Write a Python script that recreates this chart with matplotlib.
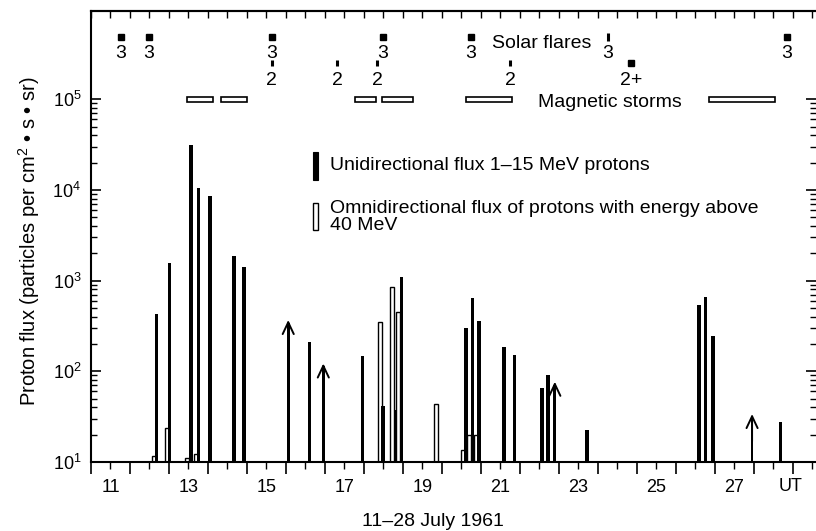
import numpy as np
import matplotlib
matplotlib.use('Agg')
import matplotlib.pyplot as plt
from matplotlib import ticker, transforms
from matplotlib.patches import Rectangle

plt.rcParams['font.family'] = ['Liberation Sans', 'DejaVu Sans']
plt.rcParams['mathtext.fontset'] = 'custom'
plt.rcParams['mathtext.rm'] = 'Liberation Sans'
plt.rcParams['mathtext.it'] = 'Liberation Sans:italic'
plt.rcParams['mathtext.bf'] = 'Liberation Sans:bold'

# unidirectional flux 1-15 MeV protons (solid bars), day of July 1961 (UT)
uni_day = [12.685, 13.01, 13.56, 13.76, 14.05, 14.67, 14.93, 16.6, 17.97, 18.49, 18.81, 18.97,
           20.62, 20.79, 20.95, 21.59, 21.87, 22.57, 22.72, 23.73, 26.6, 26.77, 26.96, 28.69]
uni_flux = [427, 1550, 31300, 10400, 8600, 1860, 1420, 209, 148, 41.7, 37.4, 1100,
            297, 638, 361, 187, 152, 66, 91, 22.5, 538, 664, 245, 27.8]

# lower limits (bars with arrows)
lim_day = [16.06, 16.96, 22.9, 27.96]
lim_flux = [368, 122, 76.7, 33.8]

# omnidirectional flux, protons above 40 MeV (open bars)
omni_day = [12.615, 12.94, 13.47, 13.69, 18.41, 18.72, 18.88, 19.86, 20.55, 20.70, 20.87]
omni_flux = [11.6, 23.5, 11, 12.3, 348, 856, 451, 44, 13.5, 20, 20]

# magnetic storms
storm_start = [13.47, 14.33, 17.77, 18.47, 20.63, 26.85]
storm_end = [14.12, 15.01, 18.30, 19.25, 21.79, 28.56]

# solar flares: day, importance, row
flare_day = [11.76, 12.48, 15.64, 18.48, 20.74, 24.26, 28.86, 15.64, 17.32, 18.34, 21.75, 24.86]
flare_class = ['3', '3', '3', '3', '3', '3', '3', '2', '2', '2', '2', '2+']
flare_row = [0, 0, 0, 0, 0, 0, 0, 1, 1, 1, 1, 1]
flare_mark = ['s', 's', 's', 's', 's', '|', 's', '|', '|', '|', '|', 's']

day_labels = ['11', '13', '15', '17', '19', '21', '23', '25', '27']

fig = plt.figure(figsize=(8.16, 5.31), dpi=100)
ax = fig.add_axes([0.1115, 0.130, 0.8885, 0.849])
ax.set_yscale('log')
ax.set_xlim(11, 29.6)
ax.set_ylim(10, 10**5.972)

uni = np.array(uni_flux)
omni = np.array(omni_flux)
lim = np.array(lim_flux)

ax.bar(omni_day, omni - 10, bottom=10, width=0.1, color='white', edgecolor='black', linewidth=1.0, zorder=2)
ax.bar(uni_day, uni - 10, bottom=10, width=0.09, color='black', zorder=3)
ax.bar(lim_day, lim * 0.93 - 10, bottom=10, width=0.07, color='black', zorder=3)
for d, v in zip(lim_day, lim_flux):
    ax.annotate('', xy=(d, v), xytext=(d, v / 2), zorder=4,
                arrowprops=dict(arrowstyle='->,head_length=0.85,head_width=0.4',
                                lw=1.4, color='black', shrinkA=0, shrinkB=0))

trans = transforms.blended_transform_factory(ax.transData, ax.transAxes)

# magnetic storms
for s, e in zip(storm_start, storm_end):
    ax.add_patch(Rectangle((s, 0.799), e - s, 0.010, transform=trans,
                           facecolor='white', edgecolor='black', linewidth=1.2, zorder=3))
ax.text(24.31, 0.797, 'Magnetic storms', transform=trans, ha='center', va='center', fontsize=14)

# solar flares
row_mark_y = [0.942, 0.885]
row_text_y = [0.907, 0.847]
for d, c, r, m in zip(flare_day, flare_class, flare_row, flare_mark):
    if m == 's':
        ax.plot(d, row_mark_y[r], marker='s', markersize=5, color='black', transform=trans, clip_on=False)
    else:
        ms = 6 if c == '3' else 4.5
        ax.plot(d, row_mark_y[r], marker='|', markersize=ms, markeredgewidth=2.2, color='black',
                transform=trans, clip_on=False)
    ax.text(d, row_text_y[r], c, transform=trans, ha='center', va='center', fontsize=14)
ax.text(22.56, 0.929, 'Solar flares', transform=trans, ha='center', va='center', fontsize=14)

# legend drawn by hand
ax.add_patch(Rectangle((0.3065, 0.625), 0.0062, 0.062, transform=ax.transAxes,
                       facecolor='black', edgecolor='black', linewidth=0.8))
ax.text(0.3297, 0.657, 'Unidirectional flux 1\u201315 MeV protons', transform=ax.transAxes,
        ha='left', va='center', fontsize=14)
ax.add_patch(Rectangle((0.3065, 0.514), 0.0062, 0.060, transform=ax.transAxes,
                       facecolor='white', edgecolor='black', linewidth=1.0))
ax.text(0.3297, 0.562, 'Omnidirectional flux of protons with energy above', transform=ax.transAxes,
        ha='left', va='center', fontsize=14)
ax.text(0.3297, 0.524, '40 MeV', transform=ax.transAxes, ha='left', va='center', fontsize=14)

# y axis
ax.yaxis.set_major_locator(ticker.FixedLocator([1e1, 1e2, 1e3, 1e4, 1e5]))
ax.yaxis.set_major_formatter(ticker.LogFormatterSciNotation())
ax.yaxis.set_minor_locator(ticker.FixedLocator([m * 10.0**e for e in range(1, 5) for m in range(2, 10)]))
ax.yaxis.set_minor_formatter(ticker.NullFormatter())
ax.tick_params(axis='y', which='both', direction='in', left=True, right=True, labelsize=13, pad=7)
ax.tick_params(axis='y', which='major', length=7.5, width=1.2)
ax.tick_params(axis='y', which='minor', length=4.5, width=1.0)
ax.set_ylabel('Proton flux (particles per cm$^2$ \u2022 s \u2022 sr)', fontsize=14.5)
ax.yaxis.set_label_coords(-0.068, 0.49)

# x axis: day boundaries long ticks, half days short ticks with labels
ax.xaxis.set_major_locator(ticker.FixedLocator(np.arange(11, 30, 1.0)))
ax.xaxis.set_major_formatter(ticker.NullFormatter())
ax.xaxis.set_minor_locator(ticker.FixedLocator(np.arange(11.5, 29.6, 1.0)))
ax.xaxis.set_minor_formatter(ticker.FixedFormatter(
    [day_labels[i // 2] if i % 2 == 0 and i // 2 < len(day_labels) else '' for i in range(19)]))
ax.tick_params(axis='x', which='both', direction='out', labelsize=13)
ax.tick_params(axis='x', which='major', length=8.5, width=1.2)
ax.tick_params(axis='x', which='minor', length=5, width=1.0, pad=7)
ax.text(28.95, -0.055, 'UT', transform=trans, ha='center', va='center', fontsize=13)
ax.set_xlabel('11\u201328 July 1961', fontsize=14)
ax.xaxis.set_label_coords(0.472, -0.113)

top = ax.secondary_xaxis('top')
top.set_xticks(np.arange(11, 29.6, 0.5))
top.tick_params(direction='in', length=5, width=1.0, labeltop=False)

for side in ['left', 'bottom', 'top']:
    ax.spines[side].set_linewidth(1.5)
ax.spines['right'].set_visible(False)
top.spines['top'].set_linewidth(1.5)

fig.savefig('out.png', dpi=100)
